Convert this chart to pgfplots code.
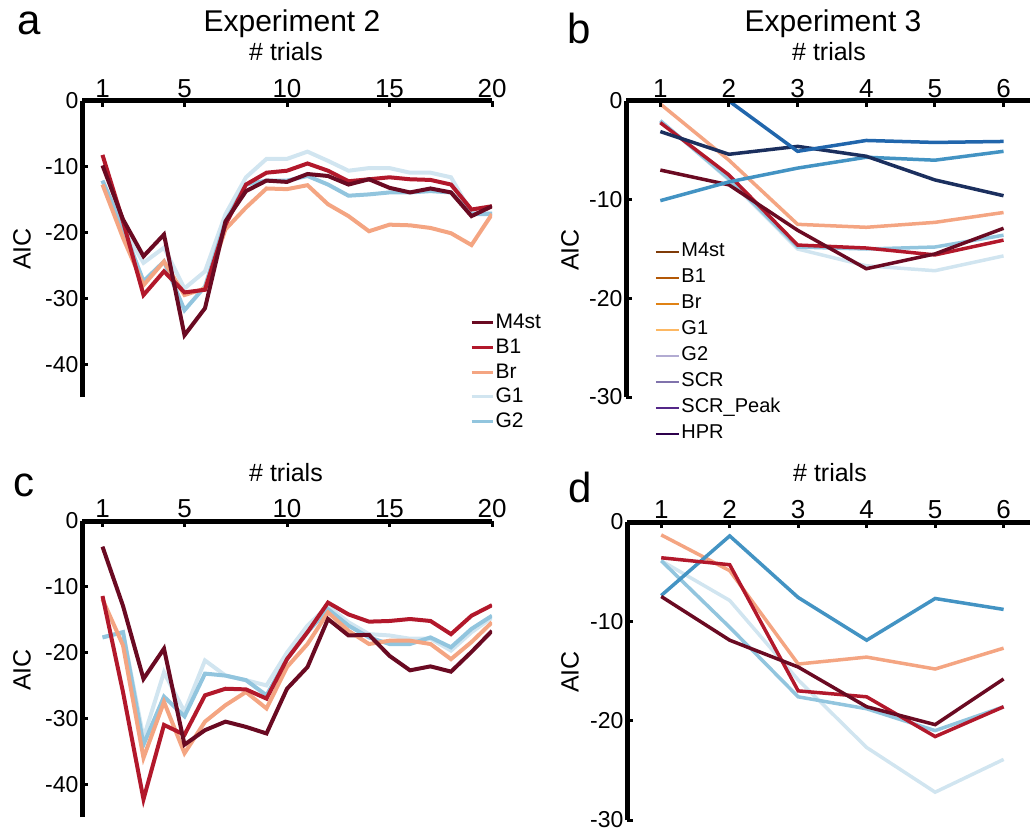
\documentclass[border=0pt]{standalone}
\usepackage{fontspec}
\setmainfont{Liberation Sans}
\usepackage{pgfplots}
\pgfplotsset{compat=1.18}

% plotted lines (RdBu)
\definecolor{cM}{HTML}{6A0A22}
\definecolor{cB}{HTML}{B2182B}
\definecolor{cBr}{HTML}{F4A582}
\definecolor{cGa}{HTML}{D1E5F0}
\definecolor{cGb}{HTML}{92C5DE}
\definecolor{cS}{HTML}{4393C3}
\definecolor{cSP}{HTML}{2166AC}
\definecolor{cH}{HTML}{1B2F5E}
% legend of panel b (PuOr)
\definecolor{lM}{HTML}{7F3B08}
\definecolor{lB}{HTML}{B35806}
\definecolor{lBr}{HTML}{E08214}
\definecolor{lGa}{HTML}{FDB863}
\definecolor{lGb}{HTML}{B2ABD2}
\definecolor{lS}{HTML}{8073AC}
\definecolor{lSP}{HTML}{542788}
\definecolor{lH}{HTML}{2D004B}

\pgfplotsset{
  aic/.style={
    scale only axis, anchor=north west,
    axis x line=top, axis y line=left,
    axis line style={line width=5pt, -},
    axis on top,
    tick align=inside,
    major tick length=6pt,
    tick style={black, line width=3pt},
    ymax=0,
    xticklabel style={font=\fontsize{26}{26}\selectfont},
    yticklabel style={font=\fontsize{23}{23}\selectfont},
    legend style={draw=none, fill=none, inner sep=0pt,
      nodes={inner sep=1.5pt, anchor=west}},
  },
  trials20/.style={xmin=0, xmax=20, width=410pt, height=296pt, ymin=-45,
    xtick={1,5,10,15,20}, xticklabels={1,5,10,15,20},
    ytick={-40,-30,-20,-10,0}, yticklabels={-40,-30,-20,-10,0},
    every axis plot/.append style={line width=4pt}},
  trials6/.style={xmin=0.5, xmax=6.4, width=405pt, height=296pt, ymin=-30,
    xtick={1,...,6}, xticklabels={1,2,3,4,5,6},
    ytick={-30,-20,-10,0}, yticklabels={-30,-20,-10,0},
    every axis plot/.append style={line width=3.5pt}},
}

\begin{document}
\begin{tikzpicture}
\path[use as bounding box] (0pt,0pt) rectangle (1030pt,-834pt);

% ---------- a ----------
\begin{axis}[aic, trials20, at={(82pt,-101pt)},
  legend style={at={(0.946,0.287)}, anchor=north west,
    font=\fontsize{21}{21}\selectfont, row sep=3.7pt,
    nodes={text height=15pt, text depth=3pt}},
  legend image code/.code={\draw[#1, line width=3pt] (0pt,0pt) -- (21pt,0pt);}]
\addlegendimage{cM}\addlegendentry{M4st}
\addlegendimage{cB}\addlegendentry{B1}
\addlegendimage{cBr}\addlegendentry{Br}
\addlegendimage{cGa}\addlegendentry{G1}
\addlegendimage{cGb}\addlegendentry{G2}
\addplot[cGa, forget plot] coordinates {(1,-12.1)(2,-19.3)(3,-24.6)(4,-22.3)(5,-28.5)(6,-25.9)(7,-17.2)(8,-11.6)(9,-8.8)(10,-8.8)(11,-7.7)(12,-9.1)(13,-10.6)(14,-10.2)(15,-10.2)(16,-10.9)(17,-10.9)(18,-11.6)(19,-17.0)(20,-17.0)};
\addplot[cGb, forget plot] coordinates {(1,-12.1)(2,-19.3)(3,-27.4)(4,-24.4)(5,-31.8)(6,-28.2)(7,-18.3)(8,-12.7)(9,-12.1)(10,-12.1)(11,-11.4)(12,-12.7)(13,-14.4)(14,-14.2)(15,-13.9)(16,-13.9)(17,-13.7)(18,-13.9)(19,-17.2)(20,-17.2)};
\addplot[cBr, forget plot] coordinates {(1,-12.7)(2,-20.8)(3,-28.0)(4,-24.4)(5,-29.5)(6,-28.5)(7,-19.5)(8,-16.2)(9,-13.3)(10,-13.4)(11,-12.8)(12,-15.7)(13,-17.5)(14,-19.8)(15,-18.8)(16,-18.9)(17,-19.3)(18,-20.1)(19,-21.9)(20,-17.2)};
\addplot[cB, forget plot] coordinates {(1,-8.2)(2,-18.3)(3,-29.5)(4,-25.9)(5,-29.1)(6,-28.7)(7,-18.8)(8,-12.7)(9,-10.9)(10,-10.6)(11,-9.5)(12,-10.6)(13,-12.2)(14,-11.9)(15,-11.6)(16,-11.9)(17,-12.0)(18,-12.7)(19,-16.5)(20,-16.0)};
\addplot[cM, forget plot] coordinates {(1,-9.8)(2,-18.0)(3,-23.6)(4,-20.3)(5,-35.6)(6,-31.5)(7,-18.3)(8,-13.7)(9,-12.1)(10,-12.3)(11,-11.1)(12,-11.4)(13,-12.7)(14,-11.9)(15,-13.2)(16,-13.9)(17,-13.3)(18,-13.9)(19,-17.5)(20,-16.0)};
\end{axis}

% ---------- b ----------
\begin{axis}[aic, trials6, at={(626pt,-101pt)},
  legend style={at={(0.071,0.527)}, anchor=north west,
    font=\fontsize{20}{20}\selectfont, row sep=5pt,
    nodes={text height=14pt, text depth=4pt}},
  legend image code/.code={\draw[#1, line width=2pt] (0pt,0pt) -- (23pt,0pt);}]
\addlegendimage{lM}\addlegendentry{M4st}
\addlegendimage{lB}\addlegendentry{B1}
\addlegendimage{lBr}\addlegendentry{Br}
\addlegendimage{lGa}\addlegendentry{G1}
\addlegendimage{lGb}\addlegendentry{G2}
\addlegendimage{lS}\addlegendentry{SCR}
\addlegendimage{lSP}\addlegendentry{SCR\_Peak}
\addlegendimage{lH}\addlegendentry{HPR}
\addplot[cGa, forget plot] coordinates {(1,-2.0)(2,-8.0)(3,-15.0)(4,-16.7)(5,-17.2)(6,-15.7)};
\addplot[cGb, forget plot] coordinates {(1,-2.0)(2,-7.9)(3,-14.8)(4,-15.0)(5,-14.8)(6,-13.6)};
\addplot[cBr, forget plot] coordinates {(1,-0.3)(2,-6.0)(3,-12.5)(4,-12.8)(5,-12.3)(6,-11.3)};
\addplot[cB, forget plot] coordinates {(1,-2.2)(2,-7.5)(3,-14.6)(4,-14.9)(5,-15.6)(6,-14.1)};
\addplot[cM, forget plot] coordinates {(1,-7.0)(2,-8.5)(3,-13.1)(4,-17.0)(5,-15.5)(6,-12.9)};
\addplot[cS, forget plot] coordinates {(1,-10.1)(2,-8.2)(3,-6.8)(4,-5.7)(5,-6.0)(6,-5.1)};
\addplot[cH, forget plot] coordinates {(1,-3.1)(2,-5.4)(3,-4.6)(4,-5.6)(5,-8.0)(6,-9.6)};
\addplot[cSP, forget plot] coordinates {(1,0)(2,0)(3,-5.1)(4,-4.0)(5,-4.2)(6,-4.1)};
\end{axis}

% ---------- c ----------
\begin{axis}[aic, trials20, at={(82pt,-521pt)}]
\addplot[cGa] coordinates {(1,-17.7)(2,-16.9)(3,-33.0)(4,-23.0)(5,-29.0)(6,-21.2)(7,-23.5)(8,-24.2)(9,-25.0)(10,-20.0)(11,-15.9)(12,-12.9)(13,-15.4)(14,-17.2)(15,-17.4)(16,-17.9)(17,-17.9)(18,-19.7)(19,-16.9)(20,-14.7)};
\addplot[cGb] coordinates {(1,-17.7)(2,-16.9)(3,-34.0)(4,-26.7)(5,-29.7)(6,-23.2)(7,-23.5)(8,-24.2)(9,-26.5)(10,-21.0)(11,-16.9)(12,-13.4)(13,-15.9)(14,-17.7)(15,-18.7)(16,-18.7)(17,-17.7)(18,-19.2)(19,-16.4)(20,-14.4)};
\addplot[cBr] coordinates {(1,-11.9)(2,-18.9)(3,-36.0)(4,-27.5)(5,-35.3)(6,-30.5)(7,-28.0)(8,-26.0)(9,-28.5)(10,-22.2)(11,-18.7)(12,-13.9)(13,-16.7)(14,-18.7)(15,-18.2)(16,-18.2)(17,-18.7)(18,-21.0)(19,-18.4)(20,-15.4)};
\addplot[cB] coordinates {(1,-11.4)(2,-26.0)(3,-42.3)(4,-31.0)(5,-32.5)(6,-26.5)(7,-25.5)(8,-25.6)(9,-27.0)(10,-21.0)(11,-16.9)(12,-12.4)(13,-14.2)(14,-15.3)(15,-15.2)(16,-14.9)(17,-15.2)(18,-17.2)(19,-14.4)(20,-12.8)};
\addplot[cM] coordinates {(1,-3.9)(2,-12.9)(3,-24.0)(4,-19.4)(5,-34.0)(6,-31.8)(7,-30.5)(8,-31.3)(9,-32.3)(10,-25.5)(11,-22.2)(12,-14.9)(13,-17.4)(14,-17.3)(15,-20.5)(16,-22.7)(17,-22.1)(18,-22.9)(19,-19.9)(20,-16.7)};
\end{axis}

% ---------- d ----------
\begin{axis}[aic, trials6, at={(627pt,-522pt)}, height=298pt, width=404pt]
\addplot[cGa] coordinates {(1,-3.9)(2,-7.9)(3,-15.9)(4,-22.7)(5,-27.2)(6,-23.9)};
\addplot[cGb] coordinates {(1,-3.9)(2,-10.6)(3,-17.6)(4,-18.8)(5,-21.0)(6,-18.6)};
\addplot[cBr] coordinates {(1,-1.3)(2,-4.9)(3,-14.3)(4,-13.6)(5,-14.8)(6,-12.7)};
\addplot[cS] coordinates {(1,-7.4)(2,-1.4)(3,-7.6)(4,-11.9)(5,-7.7)(6,-8.8)};
\addplot[cB] coordinates {(1,-3.6)(2,-4.3)(3,-17.0)(4,-17.6)(5,-21.6)(6,-18.6)};
\addplot[cM] coordinates {(1,-7.5)(2,-11.9)(3,-14.6)(4,-18.6)(5,-20.4)(6,-15.8)};
\end{axis}

% ---------- titles and labels ----------
\begin{scope}[every node/.style={inner sep=0pt}]
\node[font=\fontsize{42}{42}\selectfont] at (29pt,-23pt) {a};
\node[font=\fontsize{42}{42}\selectfont] at (579pt,-28pt) {b};
\node[font=\fontsize{42}{42}\selectfont] at (24pt,-485pt) {c};
\node[font=\fontsize{42}{42}\selectfont] at (580pt,-487pt) {d};
\node[font=\fontsize{30}{30}\selectfont] at (292pt,-24pt) {Experiment 2};
\node[font=\fontsize{30}{30}\selectfont] at (833pt,-24pt) {Experiment 3};
\node[font=\fontsize{25}{25}\selectfont] at (286pt,-52pt) {\# trials};
\node[font=\fontsize{25}{25}\selectfont] at (829pt,-52pt) {\# trials};
\node[font=\fontsize{25}{25}\selectfont] at (286pt,-473pt) {\# trials};
\node[font=\fontsize{25}{25}\selectfont] at (830pt,-473pt) {\# trials};
\node[font=\fontsize{25}{25}\selectfont, rotate=90] at (22pt,-249pt) {AIC};
\node[font=\fontsize{25}{25}\selectfont, rotate=90] at (570pt,-250pt) {AIC};
\node[font=\fontsize{25}{25}\selectfont, rotate=90] at (22pt,-670pt) {AIC};
\node[font=\fontsize{25}{25}\selectfont, rotate=90] at (570pt,-672pt) {AIC};
\end{scope}
\end{tikzpicture}
\end{document}
